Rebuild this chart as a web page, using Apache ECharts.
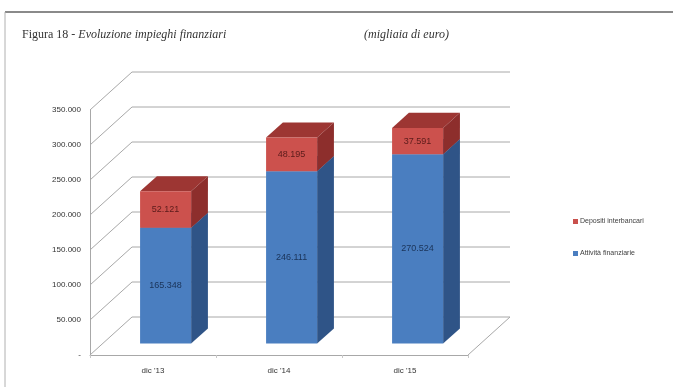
<!DOCTYPE html>
<html>
<head>
<meta charset="utf-8">
<script src="https://cdn.jsdelivr.net/npm/echarts@6/dist/echarts.min.js"></script>
<style>
  html, body { margin: 0; padding: 0; background: #fff; }
  #main { width: 673px; height: 387px; }
</style>
</head>
<body>
<div id="main"></div>
<script>
// data (migliaia di euro)
const categories = ["dic '13", "dic '14", "dic '15"];
const attivita = [165348, 246111, 270524];   // Attività finanziarie
const depositi = [52121, 48195, 37591];      // Depositi interbancari
const yTicks = [0, 50000, 100000, 150000, 200000, 250000, 300000, 350000];

// fake 3d depth of the walls, in px
const WALL_DX = 42, WALL_DY = -38;

function fmt(v) {
  if (v === 0) return '-';
  return String(v).replace(/\B(?=(\d{3})+(?!\d))/g, '.');
}

const myChart = echarts.init(document.getElementById('main'));

// walls: diagonal lines on the left wall + gridlines on the back wall
function renderWall(params, api) {
  const v = api.value(1);
  const p = api.coord([0, v]);
  const cs = params.coordSys;
  const xl = cs.x, xr = cs.x + cs.width;
  const y = p[1];
  const st = { stroke: '#a8a8a8', lineWidth: 1 };
  const kids = [
    { type: 'line', shape: { x1: xl, y1: y, x2: xl + WALL_DX, y2: y + WALL_DY }, style: st },
    { type: 'line', shape: { x1: xl + WALL_DX, y1: y + WALL_DY, x2: xr + WALL_DX, y2: y + WALL_DY }, style: st }
  ];
  if (v === 0) {
    kids.push({ type: 'line', shape: { x1: xr, y1: y, x2: xr + WALL_DX, y2: y + WALL_DY }, style: st });
  }
  return { type: 'group', children: kids };
}

function makeBarRenderer(front, side, top, labelColor, drawTop) {
  return function (params, api) {
    const i = api.value(0), base = api.value(1), end = api.value(2);
    const p0 = api.coord([i, base]);
    const p1 = api.coord([i, end]);
    const bw = api.size([1, 0])[0] * 0.405;
    const ox = WALL_DX * 0.3, oy = WALL_DY * 0.3;
    const dx = WALL_DX * 0.4, dy = WALL_DY * 0.4;
    const x0 = p0[0] - bw / 2 + ox, x1 = x0 + bw;
    const yb = p0[1] + oy, yt = p1[1] + oy;
    const kids = [
      { type: 'polygon', shape: { points: [[x1, yb], [x1 + dx, yb + dy], [x1 + dx, yt + dy], [x1, yt]] }, style: { fill: side } },
      { type: 'rect', shape: { x: x0, y: yt, width: bw, height: yb - yt }, style: { fill: front } },
      { type: 'text', x: (x0 + x1) / 2, y: (yt + yb) / 2,
        style: { text: fmt(end - base), fill: labelColor, font: '9px "Liberation Sans", sans-serif', align: 'center', verticalAlign: 'middle' } }
    ];
    if (drawTop) {
      kids.unshift({ type: 'polygon', shape: { points: [[x0, yt], [x1, yt], [x1 + dx, yt + dy], [x0 + dx, yt + dy]] }, style: { fill: top } });
    }
    return { type: 'group', children: kids };
  };
}

const blueData = categories.map((c, i) => [i, 0, attivita[i]]);
const redData = categories.map((c, i) => [i, attivita[i], attivita[i] + depositi[i]]);

myChart.setOption({
  animation: false,
  backgroundColor: '#fff',
  title: [
    {
      text: '{a|Figura 18 - }{b|Evoluzione impieghi finanziari}',
      left: 17, top: 24,
      textStyle: {
        fontWeight: 'normal',
        rich: {
          a: { fontFamily: '"Liberation Serif", serif', fontSize: 12, color: '#333', fontWeight: 'normal' },
          b: { fontFamily: '"Liberation Serif", serif', fontSize: 12, color: '#333', fontStyle: 'italic', fontWeight: 'normal' }
        }
      }
    },
    {
      text: '(migliaia di euro)',
      left: 359, top: 24,
      textStyle: { fontFamily: '"Liberation Serif", serif', fontSize: 12, color: '#333', fontStyle: 'italic', fontWeight: 'normal' }
    }
  ],
  graphic: [
    { type: 'line', shape: { x1: 5, y1: 12, x2: 673, y2: 12 }, style: { stroke: '#8a8a8a', lineWidth: 2 } },
    { type: 'line', shape: { x1: 5, y1: 12, x2: 5, y2: 387 }, style: { stroke: '#b0b0b0', lineWidth: 1 } }
  ],
  legend: {
    data: ['Depositi interbancari', 'Attività finanziarie'],
    orient: 'vertical',
    left: 568, top: 213,
    itemWidth: 5, itemHeight: 5, itemGap: 25,
    icon: 'rect',
    textStyle: { fontSize: 7, color: '#404040', fontFamily: '"Liberation Sans", sans-serif', padding: [0, 0, 0, -3] }
  },
  grid: { left: 90, right: 205, top: 110, bottom: 32 },
  xAxis: {
    type: 'category',
    data: categories,
    axisLine: { lineStyle: { color: '#a8a8a8' } },
    axisTick: { show: true, length: 3, lineStyle: { color: '#c8c8c8' } },
    axisLabel: { color: '#333', fontSize: 8, fontFamily: '"Liberation Sans", sans-serif', margin: 12 }
  },
  yAxis: {
    type: 'value',
    min: 0, max: 350000, interval: 50000,
    axisLine: { show: true, lineStyle: { color: '#a8a8a8' } },
    axisTick: { show: false },
    splitLine: { show: false },
    axisLabel: { color: '#333', fontSize: 8, fontFamily: '"Liberation Sans", sans-serif', margin: 9, formatter: fmt }
  },
  series: [
    {
      type: 'custom', name: 'walls', silent: true, z: 1,
      renderItem: renderWall,
      encode: { x: 0, y: 1 },
      data: yTicks.map(v => [0, v])
    },
    {
      type: 'custom', name: 'Attività finanziarie', z: 2,
      itemStyle: { color: '#4a7ec0' },
      renderItem: makeBarRenderer('#4a7ec0', '#2f5487', '#3b6aa3', '#1a3358', true),
      encode: { x: 0, y: [1, 2] },
      data: blueData
    },
    {
      type: 'custom', name: 'Depositi interbancari', z: 3,
      itemStyle: { color: '#c9504c' },
      renderItem: makeBarRenderer('#cc514d', '#8d2e2c', '#9d3633', '#5a1b1a', true),
      encode: { x: 0, y: [1, 2] },
      data: redData
    }
  ]
});
</script>
</body>
</html>
